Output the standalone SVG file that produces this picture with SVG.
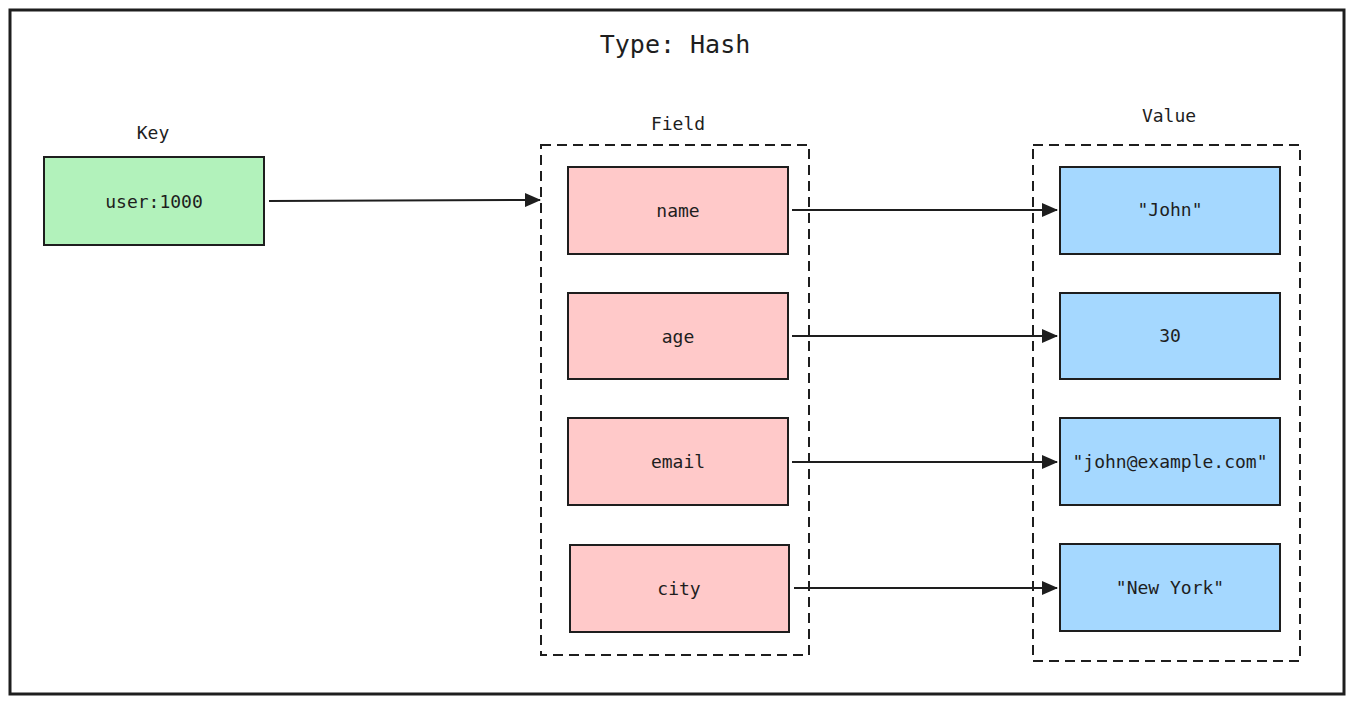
<svg xmlns="http://www.w3.org/2000/svg" width="1353" height="705" viewBox="0 0 1353 705">
<defs>
<marker id="ah" markerWidth="16" markerHeight="14" refX="15" refY="7" orient="auto" markerUnits="userSpaceOnUse">
<path d="M0,0 L16,7 L0,14 Z" fill="#1e1e1e"/>
</marker>
<style>
.frame{fill:#fff;stroke:#1e1e1e;stroke-width:3}
.dash{fill:none;stroke:#1e1e1e;stroke-width:2;stroke-dasharray:10 6}
.key{fill:#b2f2bb;stroke:#1e1e1e;stroke-width:2}
.field{fill:#ffc9c9;stroke:#1e1e1e;stroke-width:2}
.val{fill:#a5d8ff;stroke:#1e1e1e;stroke-width:2}
.t{font-family:"DejaVu Sans Mono","Liberation Mono",monospace;font-size:18px;fill:#1e1e1e;text-anchor:middle;dominant-baseline:central}
.title{font-family:"DejaVu Sans Mono","Liberation Mono",monospace;font-size:25px;fill:#1e1e1e;text-anchor:middle;dominant-baseline:central}
.conn{stroke:#1e1e1e;stroke-width:2;fill:none;marker-end:url(#ah)}
</style>
</defs>
<rect class="frame" x="10" y="10" width="1334" height="684"/>
<text class="title" x="675" y="44">Type: Hash</text>
<g id="key">
<text class="t" x="153" y="132">Key</text>
<rect class="key" x="44" y="157" width="220" height="88"/>
<text class="t" x="154" y="201">user:1000</text>
</g>
<g id="field-group">
<text class="t" x="678" y="123">Field</text>
<rect class="dash" x="541" y="145" width="268" height="510"/>
</g>
<g id="value-group">
<text class="t" x="1169" y="115">Value</text>
<rect class="dash" x="1033" y="145" width="267" height="516"/>
</g>
<g id="f-name"><rect class="field" x="568" y="167" width="220" height="87"/><text class="t" x="678" y="210">name</text></g>
<g id="f-age"><rect class="field" x="568" y="293" width="220" height="86"/><text class="t" x="678" y="336">age</text></g>
<g id="f-email"><rect class="field" x="568" y="418" width="220" height="87"/><text class="t" x="678" y="461">email</text></g>
<g id="f-city"><rect class="field" x="570" y="545" width="219" height="87"/><text class="t" x="679" y="588">city</text></g>
<g id="v-name"><rect class="val" x="1060" y="167" width="220" height="87"/><text class="t" x="1170" y="209">"John"</text></g>
<g id="v-age"><rect class="val" x="1060" y="293" width="220" height="86"/><text class="t" x="1170" y="335">30</text></g>
<g id="v-email"><rect class="val" x="1060" y="418" width="220" height="87"/><text class="t" x="1170" y="461">"john@example.com"</text></g>
<g id="v-city"><rect class="val" x="1060" y="544" width="220" height="87"/><text class="t" x="1170" y="587">"New York"</text></g>
<g id="connectors">
<line class="conn" x1="269" y1="201" x2="540" y2="200"/>
<line class="conn" x1="792" y1="210" x2="1057" y2="210"/>
<line class="conn" x1="792" y1="336" x2="1057" y2="336"/>
<line class="conn" x1="792" y1="462" x2="1057" y2="462"/>
<line class="conn" x1="794" y1="588" x2="1057" y2="588"/>
</g>
</svg>
